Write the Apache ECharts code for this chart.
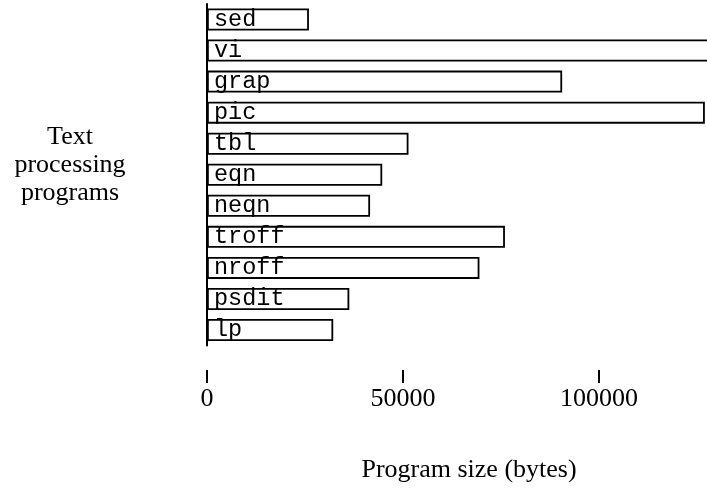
<!DOCTYPE html>
<html>
<head>
<meta charset="utf-8">
<style>
  html, body { margin: 0; padding: 0; background: #fff; overflow: hidden; width: 707px; height: 492px; }
  #chart { width: 712px; height: 492px; }
</style>
<script src="https://cdn.jsdelivr.net/npm/echarts@6/dist/echarts.min.js"></script>
</head>
<body>
<div id="chart"></div>
<script>
// Data (bytes)
const programs = ['sed', 'vi', 'grap', 'pic', 'tbl', 'eqn', 'neqn', 'troff', 'nroff', 'psdit', 'lp'];
const sizes = [26000, 150000, 90600, 127000, 51400, 44700, 41600, 76000, 69500, 36300, 32200];
const tickValues = [0, 50000, 100000];
const yTitle = 'Text\nprocessing\nprograms';
const xTitle = 'Program size (bytes)';

const chart = echarts.init(document.getElementById('chart'), null, { renderer: 'canvas' });

const serif = '"Liberation Serif", "Times New Roman", serif';
const mono = '"Liberation Mono", "Courier New", monospace';

chart.setOption({
  backgroundColor: '#ffffff',
  animation: false,
  grid: { left: 207, width: 502, top: 4, height: 341.5, containLabel: false },
  xAxis: {
    type: 'value',
    min: 0,
    max: 128060,
    interval: 50000,
    offset: 24.5,
    axisLine: { show: false },
    splitLine: { show: false },
    axisTick: { show: true, length: 13, customValues: tickValues, lineStyle: { color: '#000', width: 2 } },
    axisLabel: {
      customValues: tickValues,
      formatter: function (v) { return String(v); },
      margin: 16,
      color: '#000',
      fontFamily: serif,
      fontSize: 26
    }
  },
  yAxis: {
    type: 'category',
    data: programs,
    inverse: true,
    axisLine: { show: true, lineStyle: { color: '#000', width: 2 } },
    axisTick: { show: false },
    axisLabel: { show: false },
    splitLine: { show: false }
  },
  graphic: [
    {
      type: 'text',
      x: 70, y: 165,
      style: {
        text: yTitle,
        fill: '#000',
        font: '26px ' + serif,
        lineHeight: 28,
        align: 'center',
        verticalAlign: 'middle'
      }
    },
    {
      type: 'text',
      x: 469, y: 470,
      style: {
        text: xTitle,
        fill: '#000',
        font: '26px ' + serif,
        align: 'center',
        verticalAlign: 'middle'
      }
    }
  ],
  series: [{
    type: 'bar',
    data: sizes,
    barWidth: 22,
    clip: true,
    itemStyle: { color: '#ffffff', borderColor: '#000', borderWidth: 1.8 },
    label: {
      show: true,
      position: 'insideLeft',
      distance: 7,
      formatter: '{b}',
      color: '#000',
      fontFamily: mono,
      fontSize: 23.5
    }
  }]
});
</script>
</body>
</html>
